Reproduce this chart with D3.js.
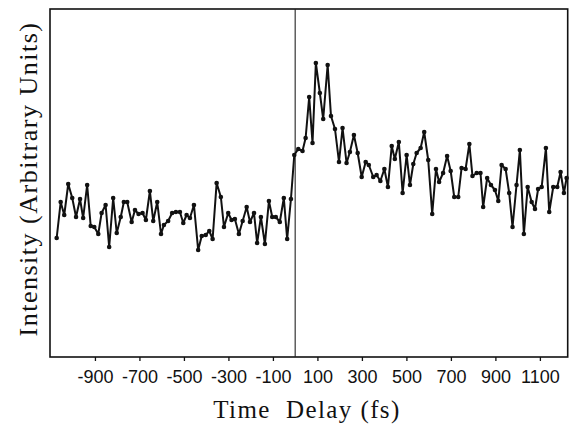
<!DOCTYPE html>
<html>
<head>
<meta charset="utf-8">
<script src="https://cdn.jsdelivr.net/npm/d3@7"></script>
<style>
  html, body { margin: 0; padding: 0; background: #fff; }
  svg { display: block; }
</style>
</head>
<body>
<svg id="chart" width="569" height="425"></svg>
<script>
// Time delay (fs) of each measurement
const times = [
  -1072, -1054, -1038, -1020, -1002, -985, -967, -953, -935, -919,
  -903, -885, -870, -852, -836, -818, -802, -784, -770, -755,
  -735, -720, -704, -686, -671, -653, -638, -620, -603, -590,
  -571, -553, -536, -518, -503, -488, -473, -455, -436, -420,
  -402, -386, -371, -353, -334, -320, -301, -286, -271, -253,
  -236, -218, -203, -185, -171, -154, -136, -118, -103, -87,
  -69, -51, -36, -19, -4, 14, 33, 47, 63, 78,
  93, 111, 126, 146, 161, 179, 197, 213, 231, 246,
  264, 281, 299, 317, 331, 351, 366, 383, 401, 417,
  434, 448, 466, 483, 501, 516, 531, 546, 564, 580,
  598, 616, 633, 647, 665, 683, 699, 715, 733, 748,
  766, 783, 797, 816, 833, 845, 863, 880, 898, 913,
  928, 946, 962, 977, 995, 1010, 1028, 1045, 1063, 1078,
  1092, 1108, 1127, 1142, 1160, 1178, 1193, 1208, 1220
];
// Intensity (arbitrary units)
const intensity = [
  119, 155, 142, 173, 159, 140, 158, 139, 172, 131,
  130, 123, 144, 152, 110, 159, 124, 140, 155, 155,
  135, 147, 143, 144, 137, 166, 136, 155, 123, 132,
  136, 144, 145, 145, 134, 142, 139, 152, 107, 121,
  122, 126, 118, 174, 160, 130, 144, 137, 138, 123,
  136, 150, 135, 144, 114, 140, 113, 156, 140, 140,
  135, 159, 118, 158, 202, 208, 206, 219, 260, 214,
  294, 264, 238, 292, 241, 228, 195, 229, 194, 205,
  222, 204, 180, 195, 192, 180, 182, 176, 188, 170,
  211, 198, 215, 164, 202, 172, 193, 204, 209, 225,
  197, 143, 188, 175, 184, 201, 186, 160, 160, 189,
  188, 213, 181, 184, 184, 150, 179, 172, 167, 156,
  192, 188, 164, 130, 172, 207, 123, 170, 155, 148,
  168, 170, 209, 145, 170, 170, 185, 164, 179
];
const tickValues = [-900, -700, -500, -300, -100, 100, 300, 500, 700, 900, 1100];
const xTitle = "Time\u00a0\u00a0Delay (fs)";
const yTitle = "Intensity (Arbitrary Units)";

const data = times.map((t, i) => ({ t, v: intensity[i] }));

const svg = d3.select("#chart");
const mLeft = 50, mRight = 567.7, mTop = 9, mBottom = 357;

const x = d3.scaleLinear().domain([-1102, 1225]).range([mLeft, mRight]);
const y = d3.scaleLinear().domain([0, 348]).range([mBottom, mTop]);

// frame
svg.append("rect")
  .attr("x", mLeft).attr("y", mTop)
  .attr("width", mRight - mLeft).attr("height", mBottom - mTop)
  .attr("fill", "none").attr("stroke", "#111").attr("stroke-width", 1.6);

// zero line
svg.append("line")
  .attr("x1", x(0)).attr("x2", x(0))
  .attr("y1", mTop).attr("y2", mBottom)
  .attr("stroke", "#222").attr("stroke-width", 1.1);

// x axis
const ax = svg.append("g")
  .attr("transform", `translate(0,${mBottom})`)
  .call(d3.axisBottom(x).tickValues(tickValues).tickSize(4).tickPadding(9)
        .tickFormat(d => String(d)));
ax.select(".domain").remove();
ax.selectAll(".tick line").attr("stroke", "#111").attr("stroke-width", 1.3);
ax.selectAll(".tick text")
  .attr("font-family", "'Liberation Sans', Arial, sans-serif")
  .attr("font-size", 18)
  .attr("fill", "#111");

// data line
svg.append("path")
  .datum(data)
  .attr("fill", "none")
  .attr("stroke", "#111")
  .attr("stroke-width", 2)
  .attr("stroke-linejoin", "round")
  .attr("d", d3.line().x(d => x(d.t)).y(d => y(d.v)));

// markers
svg.append("g").selectAll("circle")
  .data(data)
  .join("circle")
  .attr("cx", d => x(d.t))
  .attr("cy", d => y(d.v))
  .attr("r", 2.3)
  .attr("fill", "#111");

// axis titles
svg.append("text")
  .attr("x", 307).attr("y", 418)
  .attr("text-anchor", "middle")
  .attr("font-family", "'Liberation Serif', 'Times New Roman', serif")
  .attr("font-size", 25)
  .attr("letter-spacing", 1.4)
  .attr("fill", "#111")
  .text(xTitle);

svg.append("text")
  .attr("transform", "translate(37,179) rotate(-90)")
  .attr("text-anchor", "middle")
  .attr("font-family", "'Liberation Serif', 'Times New Roman', serif")
  .attr("font-size", 26)
  .attr("letter-spacing", 1.5)
  .attr("fill", "#111")
  .text(yTitle);
</script>
</body>
</html>
